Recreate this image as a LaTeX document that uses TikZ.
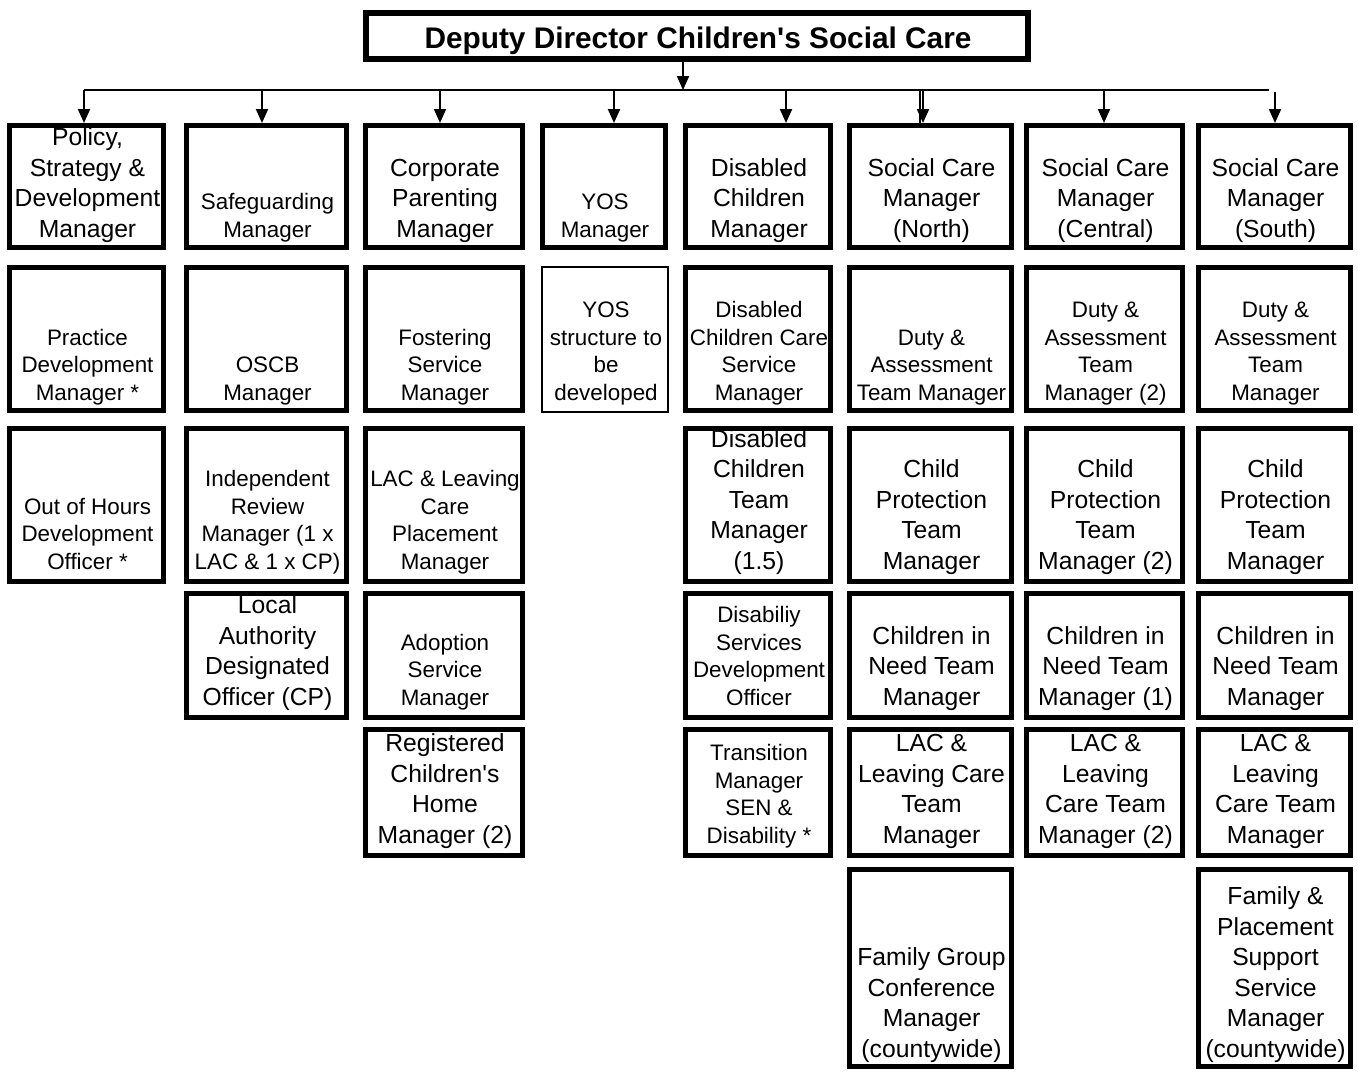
\documentclass[tikz,border=0pt]{standalone}
\usepackage{fontspec}
\setmainfont{Liberation Sans}
\usetikzlibrary{arrows.meta}
\tikzset{
  boxs/.style={draw, line width=5pt, inner sep=0pt, outer sep=2.5pt},
  thinbox/.style={draw, line width=2pt, inner sep=0pt, outer sep=1pt},
  L/.style={font=\fontsize{24.7}{30.5}\selectfont, align=center, inner sep=0pt},
  S/.style={font=\fontsize{22.4}{27.5}\selectfont, align=center, inner sep=0pt},
  arr/.style={line width=2pt, -{Triangle[width=12pt,length=14pt]}},
  busline/.style={line width=2pt}
}
\newcommand\bx[8]{%
  \node[boxs, minimum width={#3-#2-5}, minimum height={#5-#4-5}] (#1) at ({(#2+#3)/2},{(#4+#5)/2}) {};
  \node[#7, anchor=base] (#1t) at ({(#2+#3)/2+1},#6) {#8};}
\newcommand\bxthin[8]{%
  \node[thinbox, minimum width={#3-#2-2}, minimum height={#5-#4-2}] (#1) at ({(#2+#3)/2},{(#4+#5)/2}) {};
  \node[#7, anchor=base] (#1t) at ({(#2+#3)/2+1},#6) {#8};}
\begin{document}
\begin{tikzpicture}[x=1pt,y=-1pt]
\useasboundingbox[fill=white] (0,0) rectangle (1358,1072);

% top box
\node[draw, line width=6pt, inner sep=0pt, outer sep=0pt, minimum width=662, minimum height=46] (top) at (697,36) {};
\node[font=\bfseries\fontsize{29.8}{34}\selectfont, anchor=base, inner sep=0pt] (toptext) at (698,48) {Deputy Director Children\textquotesingle s Social Care};

% row 1
\bx{a1}{7}{166}{123}{250}{237}{L}{Policy,\\Strategy \&\\Development\\Manager}
\bx{b1}{184}{349}{123}{250}{237}{S}{Safeguarding\\Manager}
\bx{c1}{363}{525}{123}{250}{237}{L}{Corporate\\Parenting\\Manager}
\bx{d1}{540}{668}{123}{250}{237}{S}{YOS\\Manager}
\bx{e1}{683}{833}{123}{250}{237}{L}{Disabled\\Children\\Manager}
\bx{f1}{847}{1014}{123}{250}{237}{L}{Social Care\\Manager\\(North)}
\bx{g1}{1024}{1185}{123}{250}{237}{L}{Social Care\\Manager\\(Central)}
\bx{h1}{1196}{1353}{123}{250}{237}{L}{Social Care\\Manager\\(South)}

% row 2
\bx{a2}{7}{166}{265}{413}{400}{S}{Practice\\Development\\Manager *}
\bx{b2}{184}{349}{265}{413}{400}{S}{OSCB\\Manager}
\bx{c2}{363}{525}{265}{413}{400}{S}{Fostering\\Service\\Manager}
\bxthin{d2}{541}{669}{266}{413}{400}{S}{YOS\\structure to\\be\\developed}
\bx{e2}{683}{833}{265}{413}{400}{S}{Disabled\\Children Care\\Service\\Manager}
\bx{f2}{847}{1014}{265}{413}{400}{S}{Duty \&\\Assessment\\Team Manager}
\bx{g2}{1024}{1185}{265}{413}{400}{S}{Duty \&\\Assessment\\Team\\Manager (2)}
\bx{h2}{1196}{1353}{265}{413}{400}{S}{Duty \&\\Assessment\\Team\\Manager}

% row 3
\bx{a3}{7}{166}{426}{584}{569}{S}{Out of Hours\\Development\\Officer *}
\bx{b3}{184}{349}{426}{584}{569}{S}{Independent\\Review\\Manager (1 x\\LAC \& 1 x CP)}
\bx{c3}{363}{525}{426}{584}{569}{S}{LAC \& Leaving\\Care\\Placement\\Manager}
\bx{e3}{683}{833}{426}{584}{569}{L}{Disabled\\Children\\Team\\Manager\\(1.5)}
\bx{f3}{847}{1014}{426}{584}{569}{L}{Child\\Protection\\Team\\Manager}
\bx{g3}{1024}{1185}{426}{584}{569}{L}{Child\\Protection\\Team\\Manager (2)}
\bx{h3}{1196}{1353}{426}{584}{569}{L}{Child\\Protection\\Team\\Manager}

% row 4
\bx{b4}{184}{349}{591}{720}{705}{L}{Local\\Authority\\Designated\\Officer (CP)}
\bx{c4}{363}{525}{591}{720}{705}{S}{Adoption\\Service\\Manager}
\bx{e4}{683}{833}{591}{720}{705}{S}{Disabiliy\\Services\\Development\\Officer}
\bx{f4}{847}{1014}{591}{720}{705}{L}{Children in\\Need Team\\Manager}
\bx{g4}{1024}{1185}{591}{720}{705}{L}{Children in\\Need Team\\Manager (1)}
\bx{h4}{1196}{1353}{591}{720}{705}{L}{Children in\\Need Team\\Manager}

% row 5
\bx{c5}{363}{525}{727}{858}{843}{L}{Registered\\Children\textquotesingle s\\Home\\Manager (2)}
\bx{e5}{683}{833}{727}{858}{843}{S}{Transition\\Manager\\SEN \&\\Disability *}
\bx{f5}{847}{1014}{727}{858}{843}{L}{LAC \&\\Leaving Care\\Team\\Manager}
\bx{g5}{1024}{1185}{727}{858}{843}{L}{LAC \&\\Leaving\\Care Team\\Manager (2)}
\bx{h5}{1196}{1353}{727}{858}{843}{L}{LAC \&\\Leaving\\Care Team\\Manager}

% row 6
\bx{f6}{847}{1014}{867}{1069}{1057}{L}{Family Group\\Conference\\Manager\\(countywide)}
\bx{h6}{1196}{1353}{867}{1069}{1057}{L}{Family \&\\Placement\\Support\\Service\\Manager\\(countywide)}

% connectors
\coordinate (j0) at (683,90);
\coordinate (ka) at (84,90);
\coordinate (kb) at (262,90);
\coordinate (kc) at (440,90);
\coordinate (kd) at (614,90);
\coordinate (ke) at (786,90);
\coordinate (kf) at (923,90);
\coordinate (kg) at (1104,90);
\coordinate (kend) at (1269,90);
\coordinate (kh) at (1275,92);

\draw[arr] (top.south -| j0) -- (j0);
\draw[busline] (ka) -- (kend);
\draw[arr] (ka) -- (ka |- a1.north);
\draw[arr] (kb) -- (kb |- b1.north);
\draw[arr] (kc) -- (kc |- c1.north);
\draw[arr] (kd) -- (kd |- d1.north);
\draw[arr] (ke) -- (ke |- e1.north);
\draw[busline] ([xshift=-3.5pt]kf) -- ([xshift=-3.5pt]kf |- f1.north);
\draw[arr] (kf) -- (kf |- f1.north);
\draw[arr] (kg) -- (kg |- g1.north);
\draw[arr] (kh) -- (kh |- h1.north);
\end{tikzpicture}
\end{document}
